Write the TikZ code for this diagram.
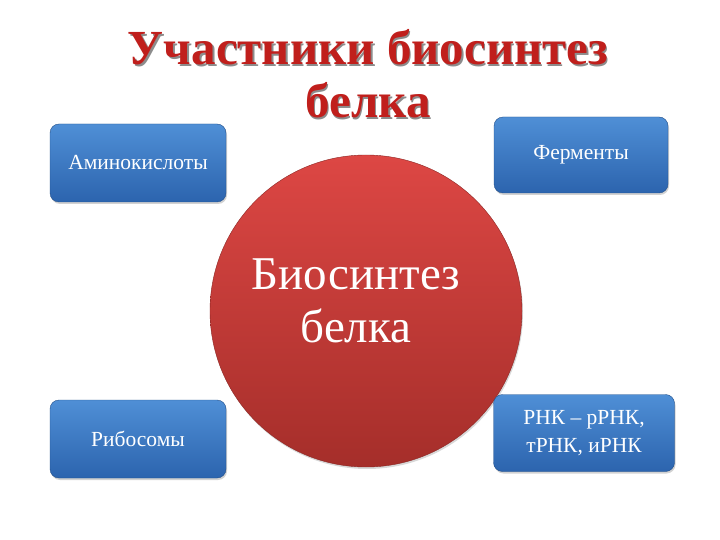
\documentclass[tikz,border=0pt]{standalone}
\usepackage{fontspec}
\setmainfont{Liberation Serif}
\usetikzlibrary{shadows}

\definecolor{titlered}{HTML}{C01F1C}
\definecolor{circtop}{HTML}{DD4744}
\definecolor{circbot}{HTML}{A52E2A}
\definecolor{boxtop}{HTML}{4F8FD6}
\definecolor{boxbot}{HTML}{2C64AE}

\begin{document}
\begin{tikzpicture}[x=1pt,y=-1pt,
    part/.style={rectangle,rounded corners=9pt,draw=boxbot!80!black,
      top color=boxtop,bottom color=boxbot,text=white,align=center,
      font=\fontsize{21.5}{28}\selectfont,
      drop shadow={shadow xshift=1pt,shadow yshift=-2pt,opacity=.35}},
    core/.style={circle,draw=circbot!85!black,top color=circtop,bottom color=circbot,
      minimum size=312pt,inner sep=0pt,
      drop shadow={shadow xshift=1pt,shadow yshift=-2pt,opacity=.3}},
    heading/.style={align=center,font=\bfseries\fontsize{49}{53}\selectfont}]
  \useasboundingbox[fill=white] (0,0) rectangle (720,540);
  % title
  \node[heading,text=black!45] at (369.5,75.5) {Участники биосинтез\\белка};
  \node (title)[heading,text=titlered] at (368,74) {Участники биосинтез\\белка};
  % centre
  \node (bio)[core] at (366,311) {};
  \node (biotext)[text=white,align=center,font=\fontsize{47}{53}\selectfont]
    at (356,301) {Биосинтез\\белка};
  % parts
  \node (amino)[part,minimum width=176pt,minimum height=78pt] at (138,163) {Аминокислоты};
  \node (ferm)[part,minimum width=174pt,minimum height=76pt] at (581,155) {Ферменты};
  \node (ribo)[part,minimum width=176pt,minimum height=78pt] at (138,439) {Рибосомы};
  \node (rnk)[part,minimum width=181pt,minimum height=77pt] at (584,433) {РНК – рРНК,\\тРНК, иРНК};
\end{tikzpicture}
\end{document}
